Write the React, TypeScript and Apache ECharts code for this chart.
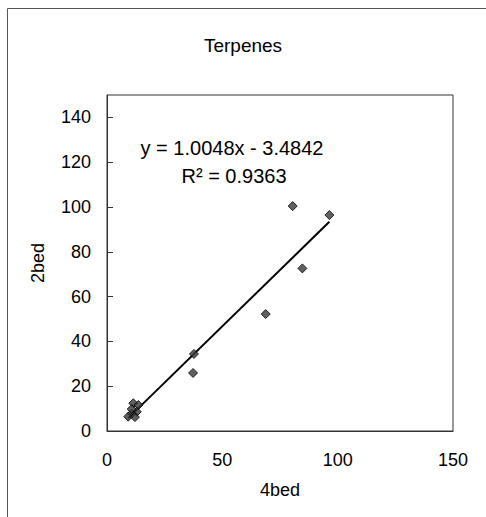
import React, { useEffect, useRef } from "react";
import * as echarts from "echarts";

const title = "Terpenes";
const xName = "4bed";
const yName = "2bed";
const xValues = [11.4, 13.6, 12.9, 10.7, 9.2, 12.1, 10.7, 37.7, 37.3, 68.8, 80.5, 84.7, 96.4];
const yValues = [12.4, 11.6, 8.6, 7.8, 6.4, 6.2, 9.8, 34.4, 25.9, 52.2, 100.4, 72.6, 96.4];
const slope = 1.0048;
const intercept = -3.4842;
const rSquared = 0.9363;

const FONT = "'Liberation Sans', Arial, sans-serif";

export default function App() {
  const ref = useRef<HTMLDivElement>(null);
  useEffect(() => {
    if (!ref.current) return;
    const chart = echarts.init(ref.current, null, { renderer: "svg" });
    const pts = xValues.map((x, i) => [x, yValues[i]]);
    const xmin = Math.min(...xValues);
    const xmax = Math.max(...xValues);
    const trend = [
      [xmin, slope * xmin + intercept],
      [xmax, slope * xmax + intercept],
    ];
    chart.setOption({
      animation: false,
      backgroundColor: "#fff",
      textStyle: { fontFamily: FONT, color: "#000" },
      title: {
        text: title,
        left: "center",
        top: 31,
        textStyle: { fontFamily: FONT, fontSize: 19, fontWeight: "normal", color: "#000" },
      },
      graphic: [
        {
          type: "rect",
          shape: { x: 7.5, y: 8.5, width: 700, height: 700 },
          style: { fill: "none", stroke: "#555", lineWidth: 1 },
          silent: true,
        },
        {
          type: "text",
          x: 232,
          y: 148,
          style: {
            text: `y = ${slope.toFixed(4)}x - ${Math.abs(intercept).toFixed(4)}`,
            fontFamily: FONT,
            fontSize: 20,
            fill: "#000",
            align: "center",
            verticalAlign: "middle",
          },
        },
        {
          type: "text",
          x: 234,
          y: 176,
          style: {
            text: `R² = ${rSquared.toFixed(4)}`,
            fontFamily: FONT,
            fontSize: 20,
            fill: "#000",
            align: "center",
            verticalAlign: "middle",
          },
        },
      ],
      grid: {
        left: 107,
        top: 95,
        width: 346,
        height: 336,
        show: true,
        borderColor: "#333",
        borderWidth: 1,
        backgroundColor: "transparent",
      },
      xAxis: {
        type: "value",
        min: 0,
        max: 150,
        interval: 50,
        name: xName,
        nameLocation: "middle",
        nameGap: 50,
        nameTextStyle: { fontFamily: FONT, fontSize: 18, color: "#000" },
        axisLine: { show: true, lineStyle: { color: "#333", width: 1 } },
        axisTick: { show: false },
        splitLine: { show: false },
        axisLabel: { fontFamily: FONT, fontSize: 18, color: "#000", margin: 20 },
      },
      yAxis: {
        type: "value",
        min: 0,
        max: 150,
        interval: 20,
        name: yName,
        nameLocation: "middle",
        nameGap: 60,
        nameTextStyle: { fontFamily: FONT, fontSize: 18, color: "#000" },
        axisLine: { show: true, lineStyle: { color: "#333", width: 1 } },
        axisTick: { show: true, inside: true, length: 6, lineStyle: { color: "#333" } },
        splitLine: { show: false },
        axisLabel: { fontFamily: FONT, fontSize: 18, color: "#000", margin: 16, showMaxLabel: false },
      },
      series: [
        {
          type: "line",
          data: trend,
          showSymbol: false,
          symbol: "none",
          lineStyle: { color: "#000", width: 2 },
          silent: true,
          z: 2,
        },
        {
          type: "scatter",
          data: pts,
          symbol: "diamond",
          symbolSize: 9,
          itemStyle: { color: "#3a3a3a", borderColor: "#000", borderWidth: 1 },
          z: 3,
        },
      ],
    });
    return () => chart.dispose();
  }, []);
  return (
    <div
      ref={ref}
      style={{ position: "fixed", left: 0, top: 0, width: 486, height: 517 }}
    />
  );
}
